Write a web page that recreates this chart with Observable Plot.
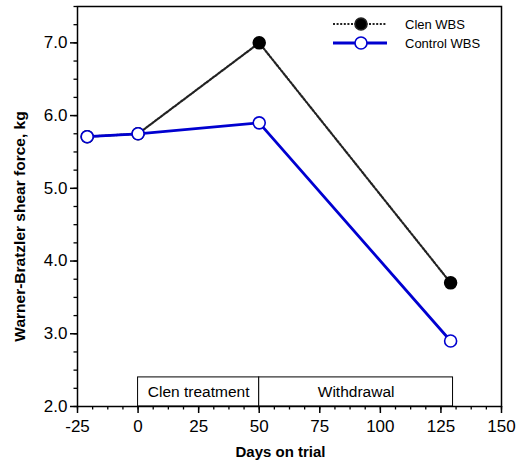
<!DOCTYPE html>
<html><head><meta charset="utf-8">
<script src="https://cdn.jsdelivr.net/npm/d3@7"></script>
<script src="https://cdn.jsdelivr.net/npm/@observablehq/plot@0.6"></script>
<style>
body{margin:0;background:#fff;font-family:"Liberation Sans",Arial,Helvetica,sans-serif}
#wrap{position:relative;width:523px;height:466px}
#legend{position:absolute;left:0;top:0}
</style>
</head><body><div id="wrap"></div>
<script>
const days = [-21, 0, 50, 129];
const clenWBS = [5.71, 5.75, 7.0, 3.7];
const controlWBS = [5.71, 5.75, 5.9, 2.9];
const seriesNames = ["Clen WBS", "Control WBS"];
const phaseLabels = ["Clen treatment", "Withdrawal"];
const phaseStart = [0, 50];
const phaseEnd = [50, 130];
const phaseTop = 2.4;
const xTicks = [-25, 0, 25, 50, 75, 100, 125, 150];
const yTicks = [2, 3, 4, 5, 6, 7];

const clen = days.map((d, i) => ({day: d, v: clenWBS[i]}));
const control = days.map((d, i) => ({day: d, v: controlWBS[i]}));
const phases = phaseLabels.map((l, i) => ({label: l, x1: phaseStart[i], x2: phaseEnd[i], mid: (phaseStart[i] + phaseEnd[i]) / 2}));
const xMinor = d3.range(-25, 150.01, 6.25);
const yMinor = d3.range(2, 7.51, 0.25);

const W = 523, H = 466, ML = 77, MR = 22, MT = 6, MB = 60;
const FONT = '"Liberation Sans", Arial, Helvetica, sans-serif';
const DOT = "2,1.6";

const chart = Plot.plot({
  width: W, height: H,
  marginLeft: ML, marginRight: MR, marginTop: MT, marginBottom: MB,
  style: {fontFamily: FONT, fontSize: "16px", color: "black", background: "white"},
  x: {domain: [-25, 150]},
  y: {domain: [2, 7.5]},
  marks: [
    Plot.rect(phases, {x1: "x1", x2: "x2", y1: 2, y2: phaseTop, fill: "white", stroke: "black", strokeWidth: 1}),
    Plot.text(phases, {x: "mid", y: (phaseTop + 2) / 2, text: "label", fontSize: 15.5, fill: "black"}),
    Plot.axisX({ticks: xMinor, tickSize: 3.5, tickFormat: () => "", strokeWidth: 1.3, label: null}),
    Plot.axisX({ticks: xTicks, tickSize: 7, tickPadding: 6, tickFormat: d => String(d), strokeWidth: 1.5, fontSize: 17,
      label: "Days on trial", labelAnchor: "center", labelArrow: "none", labelOffset: 50}),
    Plot.axisY({ticks: yMinor, tickSize: 3.5, tickFormat: () => "", strokeWidth: 1.3, label: null}),
    Plot.axisY({ticks: yTicks, tickSize: 7, tickPadding: 3, tickFormat: d3.format(".1f"), strokeWidth: 1.5, fontSize: 17,
      label: "Warner-Bratzler shear force, kg", labelAnchor: "center", labelArrow: "none", labelOffset: 64}),
    Plot.frame({stroke: "black", strokeWidth: 1.5}),
    Plot.line(clen, {x: "day", y: "v", stroke: "#222", strokeWidth: 2.2, strokeDasharray: DOT}),
    Plot.dot(clen, {x: "day", y: "v", r: 6, fill: "black", stroke: "black"}),
    Plot.line(control, {x: "day", y: "v", stroke: "#0000d0", strokeWidth: 2.8}),
    Plot.dot(control, {x: "day", y: "v", r: 6, fill: "white", stroke: "#0000d0", strokeWidth: 1.6})
  ]
});
const svg = d3.select(chart);
svg.selectAll('[aria-label="x-axis label"] text')
  .style("font-weight", "bold").style("font-size", "15px").attr("dx", -9);
svg.selectAll('[aria-label="y-axis label"] text')
  .style("font-weight", "bold").style("font-size", "15.5px").attr("dx", -20);
document.getElementById("wrap").appendChild(chart);

// legend overlay
const lg = d3.select("#wrap").append("svg").attr("id", "legend").attr("width", W).attr("height", 60);
const legendStyles = [
  {stroke: "#222", dash: DOT, width: 2.2, fill: "black"},
  {stroke: "#0000d0", dash: null, width: 2.8, fill: "white"}
];
seriesNames.forEach((name, i) => {
  const y = 24 + i * 19;
  const s = legendStyles[i];
  lg.append("line").attr("x1", 333).attr("x2", 387).attr("y1", y).attr("y2", y)
    .attr("stroke", s.stroke).attr("stroke-width", s.width).attr("stroke-dasharray", s.dash);
  lg.append("circle").attr("cx", 361).attr("cy", y).attr("r", 6).attr("fill", s.fill).attr("stroke", s.stroke).attr("stroke-width", 1.6);
  lg.append("text").attr("x", 405).attr("y", y).attr("dy", "0.35em").attr("font-size", 13)
    .attr("font-family", FONT).text(name);
});
</script>
</body></html>
